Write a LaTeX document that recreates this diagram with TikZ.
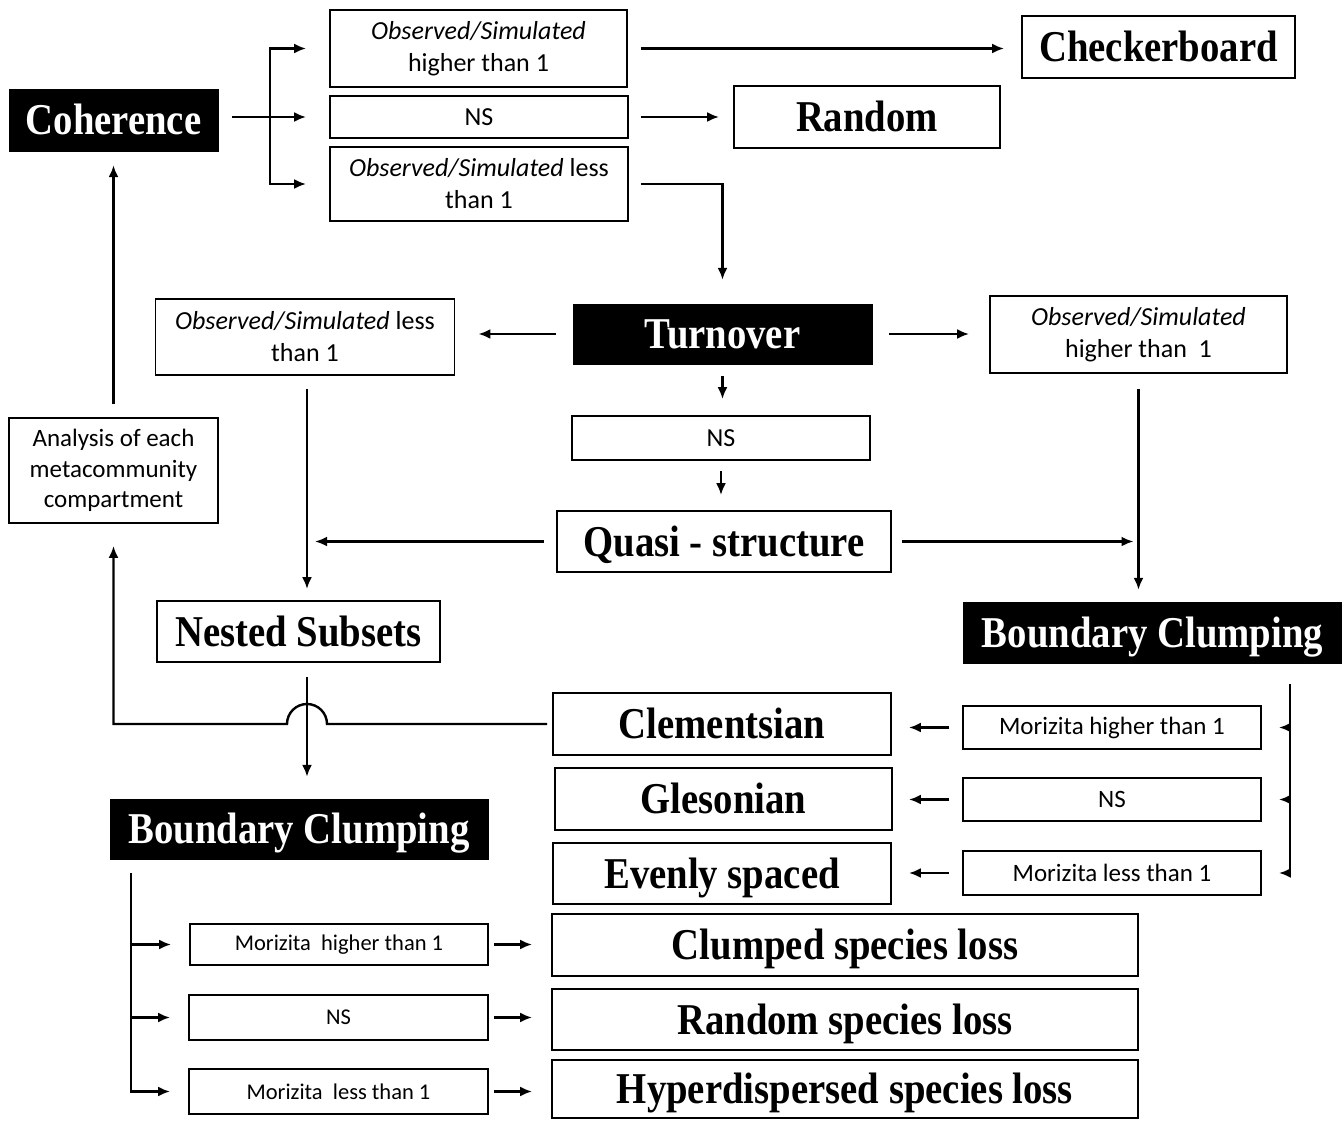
\documentclass[tikz,border=0pt]{standalone}
\usepackage{fontspec}
\setmainfont{Carlito}
\newfontfamily\bser[FakeStretch=0.88]{Liberation Serif}
\usetikzlibrary{arrows.meta}
\tikzset{
  sz/.style 2 args={minimum width=#1pt, minimum height=#2pt},
  sbox/.style={draw, line width=1.8pt, inner sep=0pt, align=center, font=\fontsize{26}{32}\selectfont},
  abox/.style={draw, line width=1.8pt, inner sep=0pt, align=center, font=\fontsize{25}{30.5}\selectfont},
  mbox/.style={draw, line width=1.8pt, inner sep=0pt, align=center, font=\fontsize{22.5}{28}\selectfont},
  lbox/.style={draw, line width=1.8pt, inner sep=0pt, align=center, text height=29pt, text depth=0pt, font=\bser\bfseries\fontsize{44}{48}\selectfont},
  bbox/.style={fill=black, draw=black, text=white, inner sep=0pt, align=center, text height=29pt, text depth=0pt, font=\bser\bfseries\fontsize{44}{48}\selectfont},
  arr/.style={line width=2.4pt, -{Latex[length=12pt,width=10pt]}},
  darr/.style={line width=2.4pt, {Latex[length=12pt,width=10pt]}-{Latex[length=12pt,width=10pt]}},
}
\begin{document}
\begin{tikzpicture}[x=1pt,y=-1pt]
\useasboundingbox (0,0) rectangle (1342,1120);
\fill[white] (0,0) rectangle (1342,1120);

% top
\node[bbox, sz={209}{62}] (coh) at (113.5,120) {Coherence};
\node[sbox, sz={297}{77}] (a1) at (478.5,48.5) {\textit{Observed/Simulated}\\higher than 1};
\node[sbox, sz={298}{42}] (a2) at (479,117) {NS};
\node[sbox, sz={298}{74}] (a3) at (479,184) {\textit{Observed/Simulated} less\\than 1};
\node[lbox, sz={273}{62}] (chk) at (1158.5,47) {Checkerboard};
\node[lbox, sz={266}{62}] (rnd) at (867,117) {Random};

% middle
\node[bbox, sz={299}{60}] (turn) at (722.5,334) {Turnover};
\node[sbox, sz={299}{76}] (b1) at (305,337) {\textit{Observed/Simulated} less\\than 1};
\node[sbox, sz={297}{77}] (b3) at (1138.5,334.5) {\textit{Observed/Simulated}\\higher than\ \ 1};
\node[sbox, sz={298}{44}] (ns2) at (721,438) {NS};
\node[lbox, sz={334}{61}] (quasi) at (724,541.5) {Quasi - structure};
\node[lbox, sz={283}{61}] (nest) at (298.5,631.5) {Nested Subsets};
\node[bbox, sz={378}{61}] (bcr) at (1152.5,632.5) {Boundary Clumping};
\node[abox, sz={209}{105}] (anal) at (113.5,470.5) {Analysis of each\\metacommunity\\compartment};

% right cluster
\node[lbox, sz={338}{62}] (clem) at (722,724) {Clementsian};
\node[lbox, sz={337}{62}] (gles) at (723.5,799) {Glesonian};
\node[lbox, sz={338}{61}] (even) at (722,873.5) {Evenly spaced};
\node[abox, sz={298}{43}] (c1) at (1112,727.5) {Morizita higher than 1};
\node[abox, sz={298}{43}] (c2) at (1112,799.5) {NS};
\node[abox, sz={298}{44}] (c3) at (1112,873) {Morizita less than 1};

% bottom cluster
\node[bbox, sz={378}{60}] (bcl) at (299,829) {Boundary Clumping};
\node[mbox, sz={298}{41}] (d1) at (339,944.5) {Morizita\ \ higher than 1};
\node[mbox, sz={299}{45}] (d2) at (338.5,1017.5) {NS};
\node[mbox, sz={299}{45}] (d3) at (338.5,1091.5) {Morizita\ \ less than 1};
\node[lbox, sz={586}{62}] (clump) at (845,945) {Clumped species loss};
\node[lbox, sz={586}{61}] (rsl) at (845,1019.5) {Random species loss};
\node[lbox, sz={586}{58}] (hyp) at (845,1089) {Hyperdispersed species loss};

% helper coordinates
\coordinate (cb) at (270,117);
\coordinate (vx) at (307,0);
\coordinate (rb) at (1290,0);
\coordinate (lb) at (131,0);

% coherence connectors
\draw[arr, shorten <=14pt, shorten >=23pt] (coh.east |- a2.west) -- (a2.west);
\draw[darr] ([xshift=-23pt]a1.west) -| (cb) |- ([xshift=-23pt]a3.west);
\draw[arr, shorten <=13pt, shorten >=17pt] (a1.east) -- (a1.east -| chk.west);
\draw[arr, shorten <=12pt, shorten >=14pt] (a2.east) -- (a2.east -| rnd.west);
\draw[arr, shorten <=12pt, shorten >=24pt] (a3.east) -| (turn.north);

% turnover connectors
\draw[arr, shorten <=17pt, shorten >=23pt] (turn.west) -- (turn.west -| b1.east);
\draw[arr, shorten <=17pt, shorten >=20pt] (turn.east) -- (turn.east -| b3.west);
\draw[arr, shorten <=12pt, shorten >=16pt] (turn.south) -- (turn.south |- ns2.north);
\draw[arr, shorten <=10pt, shorten >=15pt] (ns2.south) -- (ns2.south |- quasi.north);
\draw[arr, shorten <=13pt, shorten >=11pt] (vx |- b1.south) -- (vx |- nest.north);
\draw[arr, shorten <=12pt, shorten >=8pt] (quasi.west) -- (quasi.west -| vx);
\draw[arr, shorten <=10pt, shorten >=5pt] (quasi.east) -- (quasi.east -| b3.south);
\draw[arr, shorten <=15pt, shorten >=12pt] (b3.south) -- (b3.south |- bcr.north);
\draw[arr, shorten <=13pt, shorten >=14pt] (anal.north) -- (coh.south);

% feedback from Clementsian with hop
\draw[arr, shorten >=22pt] ([xshift=-5pt]clem.west) -- ([xshift=20pt]vx |- clem.west)
  arc[start angle=0, end angle=180, radius=20pt] -| (anal.south);
\draw[arr, shorten <=14pt, shorten >=22pt] (vx |- nest.south) -- (vx |- bcl.north);

% right bracket
\draw[arr, shorten <=21pt] (rb |- bcr.south) |- ([xshift=17pt]c3.east);
\draw[arr] (rb |- c1.east) -- ([xshift=17pt]c1.east);
\draw[arr] (rb |- c2.east) -- ([xshift=17pt]c2.east);
\draw[arr, shorten <=13pt, shorten >=17pt] (c1.west) -- (c1.west -| clem.east);
\draw[arr, shorten <=13pt, shorten >=16pt] (c2.west) -- (c2.west -| gles.east);
\draw[arr, shorten <=13pt, shorten >=17pt] (c3.west) -- (c3.west -| even.east);

% left bracket
\draw[arr, shorten <=14pt] (lb |- bcl.south) |- ([xshift=-18pt]d3.west);
\draw[arr] (lb |- d1.west) -- ([xshift=-18pt]d1.west);
\draw[arr] (lb |- d2.west) -- ([xshift=-18pt]d2.west);
\draw[arr, shorten <=5pt, shorten >=19pt] (d1.east) -- (d1.east -| clump.west);
\draw[arr, shorten <=5pt, shorten >=19pt] (d2.east) -- (d2.east -| rsl.west);
\draw[arr, shorten <=5pt, shorten >=19pt] (d3.east) -- (d3.east -| hyp.west);
\end{tikzpicture}
\end{document}
